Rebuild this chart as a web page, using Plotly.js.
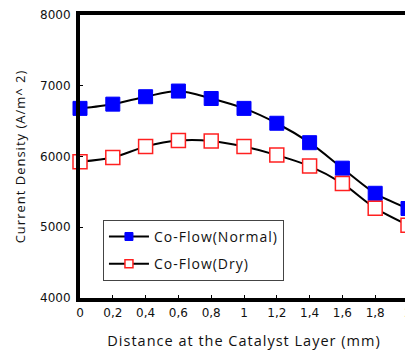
<!DOCTYPE html>
<html>
<head>
<meta charset="utf-8">
<script src="https://cdn.plot.ly/plotly-3.0.1.min.js"></script>
<style>
  html, body { margin: 0; padding: 0; background: #fff; overflow: hidden; }
  #chart { width: 420px; height: 356px; }
  /* wide, spaced lettering for titles and legend labels (also applies while Plotly measures them) */
  .xtitle, .ytitle, .legendtext { letter-spacing: 1px; }
</style>
</head>
<body>
<div id="chart"></div>
<script>
// Distance along the catalyst layer (mm)
const distance = [0, 0.2, 0.4, 0.6, 0.8, 1.0, 1.2, 1.4, 1.6, 1.8, 2.0];
// Current density (A/m^2) for each flow condition
const normalFlow = [6680, 6740, 6845, 6925, 6820, 6680, 6470, 6195, 5835, 5480, 5265];
const dryFlow    = [5925, 5985, 6140, 6225, 6220, 6140, 6020, 5865, 5620, 5270, 5030];
const xTickVals = [0, 0.2, 0.4, 0.6, 0.8, 1.0, 1.2, 1.4, 1.6, 1.8, 2.0];
const yTickVals = [4000, 5000, 6000, 7000, 8000];

const tickFont = { family: 'DejaVu Sans, Verdana, sans-serif', size: 12, color: '#111' };
const textFamily = 'Open Sans, Liberation Sans, sans-serif';
const xTitleFont = { family: textFamily, size: 14.5, color: '#111' };
const yTitleFont = { family: textFamily, size: 13, color: '#111' };
const legendFont = { family: textFamily, size: 14, color: '#111' };

const normalStyle = {
  line: { color: '#000', width: 2, shape: 'spline', smoothing: 0.8 },
  marker: { symbol: 'square', color: '#0000ff', line: { color: '#0000ff', width: 1 } }
};
const dryStyle = {
  line: { color: '#000', width: 2, shape: 'spline', smoothing: 0.8 },
  marker: { symbol: 'square', color: '#ffffff', line: { color: '#ff2020', width: 1.5 } }
};

const traces = [
  {
    x: distance, y: normalFlow, type: 'scatter', mode: 'lines+markers',
    name: 'Co-Flow(Normal)', showlegend: false, cliponaxis: false,
    line: normalStyle.line,
    marker: Object.assign({ size: 14 }, normalStyle.marker)
  },
  {
    x: distance, y: dryFlow, type: 'scatter', mode: 'lines+markers',
    name: 'Co-Flow(Dry)', showlegend: false, cliponaxis: false,
    line: dryStyle.line,
    marker: Object.assign({ size: 14 }, dryStyle.marker)
  },
  // legend entries with smaller symbols
  {
    x: [null], y: [null], type: 'scatter', mode: 'lines+markers',
    name: 'Co-Flow(Normal)', legendgroup: 'normal',
    line: { color: '#000', width: 2 },
    marker: Object.assign({ size: 8 }, normalStyle.marker)
  },
  {
    x: [null], y: [null], type: 'scatter', mode: 'lines+markers',
    name: 'Co-Flow(Dry)', legendgroup: 'dry',
    line: { color: '#000', width: 2 },
    marker: Object.assign({ size: 8 }, dryStyle.marker)
  }
];

const layout = {
  width: 420,
  height: 356,
  margin: { l: 80, r: 12, t: 15, b: 58 },
  paper_bgcolor: '#fff',
  plot_bgcolor: '#fff',
  separators: ',.',
  font: tickFont,
  xaxis: {
    range: [0, 2],
    tickvals: xTickVals,
    showgrid: false,
    zeroline: false,
    showline: true,
    linecolor: '#000',
    linewidth: 4,
    mirror: true,
    ticks: 'inside',
    ticklen: 3,
    tickwidth: 1,
    tickcolor: '#000',
    tickfont: tickFont,
    ticklabelstandoff: 1,
    title: { text: 'Distance at the Catalyst Layer (mm)', font: xTitleFont, standoff: 17 }
  },
  yaxis: {
    range: [4000, 8000],
    tickvals: yTickVals,
    showgrid: false,
    zeroline: false,
    showline: true,
    linecolor: '#000',
    linewidth: 4,
    mirror: true,
    ticks: 'inside',
    ticklen: 3,
    tickwidth: 1,
    tickcolor: '#000',
    tickfont: tickFont,
    ticklabelstandoff: 3,
    title: { text: 'Current Density (A/m^ 2)', font: yTitleFont, standoff: 13 }
  },
  legend: {
    x: 0.07, y: 0.276, xanchor: 'left', yanchor: 'top',
    bgcolor: '#fff',
    bordercolor: '#444',
    borderwidth: 1,
    font: legendFont,
    itemwidth: 40,
    traceorder: 'grouped',
    tracegroupgap: 6
  }
};

Plotly.newPlot('chart', traces, layout, { staticPlot: true, displayModeBar: false });
</script>
</body>
</html>
